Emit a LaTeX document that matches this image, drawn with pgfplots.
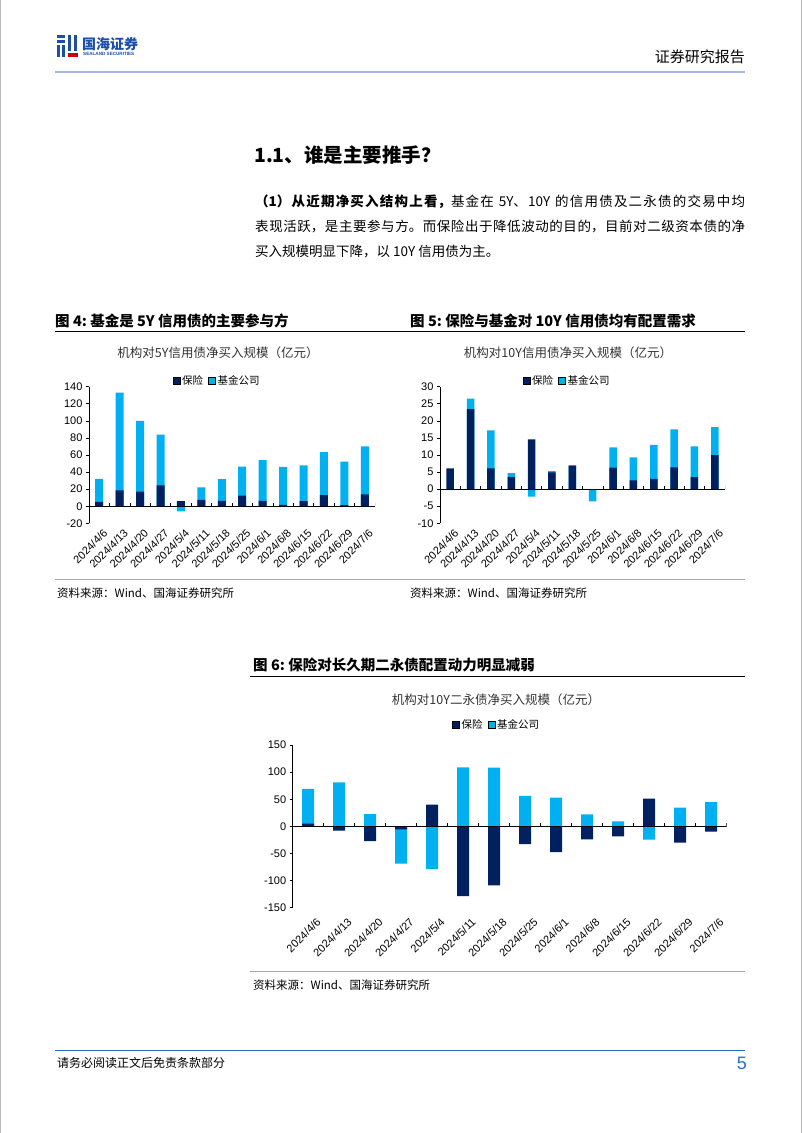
\documentclass[border=0pt]{standalone}
\usepackage{pgfplots}
\pgfplotsset{compat=1.18}
\usepackage{pgfplotstable}
\usepackage{fontspec}
\setmainfont{Liberation Sans}
\newfontfamily\cjk{Noto Sans CJK SC}
\XeTeXlinebreaklocale "zh"
\XeTeXlinebreakskip=0pt plus 1pt

\definecolor{navy}{RGB}{0,32,96}
\definecolor{cyanb}{RGB}{0,176,240}
\definecolor{hdrline}{RGB}{165,185,228}
\definecolor{logoblue}{RGB}{28,78,170}
\definecolor{pgblue}{RGB}{45,110,200}

% 5Y credit bonds: bx = insurance, jf = fund companies
\pgfplotstableread{
x bx jf
0 5 27
1 18.5 114.5
2 17 83
3 24.5 59.5
4 6 -6
5 7.5 14.5
6 6.3 25.5
7 12.5 34
8 6.3 47.7
9 1.5 44.5
10 6 42
11 13 50.5
12 1.2 51
13 14 56
}\tabA

% 10Y credit bonds
\pgfplotstableread{
x bx jf
0 6.1 -0.3
1 23.4 3.1
2 6.1 11.1
3 3.6 1.1
4 14.6 -2.2
5 4.9 0.4
6 6.9 0.1
7 0 -3.6
8 6.3 5.9
9 2.6 6.7
10 3.0 10.0
11 6.4 11.1
12 3.5 9.0
13 10.0 8.2
}\tabB

% 10Y tier-2 / perpetual bonds
\pgfplotstableread{
x bx jf
0 5 64
1 -8 81
2 -27 22.7
3 -5.5 -63.3
4 40 -78.7
5 -128.5 108.8
6 -108.8 108.2
7 -32.6 56
8 -47.3 52.9
9 -24 22
10 -18.4 9.2
11 51 -24.6
12 -30 34.4
13 -9.8 44.9
}\tabC

\pgfplotsset{
  barchart/.style={
    scale only axis,
    axis x line=bottom, axis y line=left, axis line style={-},
    x axis line style={draw=none},
    y axis line style={black, line width=0.8pt},
    xmin=-0.5, xmax=13.5, enlargelimits=false,
    xtick={0,1,2,3,4,5,6,7,8,9,10,11,12,13},
    xticklabels={2024/4/6,2024/4/13,2024/4/20,2024/4/27,2024/5/4,2024/5/11,2024/5/18,2024/5/25,2024/6/1,2024/6/8,2024/6/15,2024/6/22,2024/6/29,2024/7/6},
    x tick label style={rotate=45, anchor=east, font=\fontsize{11}{13}\selectfont, inner sep=1pt, yshift=-8pt, xshift=2pt},
    major x tick style={draw=none},
    y tick label style={font=\fontsize{11}{13}\selectfont},
    /pgf/number format/assume math mode=true,
    tick align=outside, major tick length=3pt,
    ytick style={black, line width=0.6pt},
    legend style={draw=none, fill=none, font=\cjk\fontsize{10.5}{12}\selectfont, legend columns=2,
      /tikz/every even column/.append style={column sep=3pt}},
    legend image code/.code={\fill[##1] (0pt,-3.5pt) rectangle (7pt,3.5pt);},
  },
}

\begin{document}
\begin{tikzpicture}[x=1pt,y=1pt]
\path[use as bounding box, fill=white] (0,0) rectangle (802,-1133);
\draw[gray!55, line width=1pt] (0.5,0) -- (0.5,-1133);
\draw[gray!55, line width=1pt] (801.5,0) -- (801.5,-1133);

% ---- header ----
\fill[logoblue] (57,-35) rectangle (65,-38);
\fill[logoblue] (57,-40) rectangle (65,-43);
\fill[logoblue] (57,-45) rectangle (60,-57);
\fill[logoblue] (62,-45) rectangle (65,-57);
\fill[logoblue] (68,-35) rectangle (71,-51);
\fill[logoblue] (74,-35) rectangle (77,-51);
\fill[red!80!black] (68,-53) rectangle (78,-57);
\node[anchor=west, inner sep=0, text=logoblue] at (82,-44) {\cjk\bfseries\fontsize{14}{16}\selectfont 国海证券};
\node[anchor=west, inner sep=0, text=logoblue] at (83,-54) {\bfseries\fontsize{4.6}{5}\selectfont SEALAND SECURITIES};
\node[anchor=east, inner sep=0] at (745,-57) {\cjk\fontsize{15}{17}\selectfont 证券研究报告};
\draw[hdrline, line width=2pt] (55,-72) -- (745,-72);

% ---- heading and paragraph ----
\node[anchor=west, inner sep=0] at (254,-155) {\cjk\bfseries\fontsize{19.5}{22}\selectfont 1.1、谁是主要推手？};
\node[anchor=north west, inner sep=0, text width=490pt, align=justify,
      font=\cjk\fontsize{13.5}{25}\selectfont] at (255,-194.5)
 {\fontsize{13.5}{25}\selectfont {\bfseries （1）从近期净买入结构上看，}基金在 5Y、10Y 的信用债及二永债的交易中均\linebreak 表现活跃，是主要参与方。而保险出于降低波动的目的，目前对二级资本债的净\linebreak 买入规模明显下降，以 10Y 信用债为主。\par};

% ---- captions fig 4 / fig 5 ----
\node[anchor=west, inner sep=0] at (55,-321) {\cjk\bfseries\fontsize{14.5}{16}\selectfont 图 4:\ 基金是 5Y 信用债的主要参与方};
\node[anchor=west, inner sep=0] at (410,-321) {\cjk\bfseries\fontsize{14.5}{16}\selectfont 图 5:\ 保险与基金对 10Y 信用债均有配置需求};
\draw[black, line width=1pt] (55,-331) -- (745,-331);
\node[inner sep=0, text=black!80] at (218,-353) {\cjk\fontsize{12.5}{14}\selectfont 机构对5Y信用债净买入规模（亿元）};
\node[inner sep=0, text=black!80] at (568,-353) {\cjk\fontsize{12.5}{14}\selectfont 机构对10Y信用债净买入规模（亿元）};

% ---- chart fig 4 ----
\begin{axis}[barchart, at={(89pt,-523.3pt)}, anchor=south west, width=286pt, height=136.6pt,
  ymin=-20, ymax=140, ytick={-20,0,20,40,60,80,100,120,140},
  legend style={at={(axis description cs:0.448,1.045)}, anchor=center}]
\addlegendimage{fill=navy}\addlegendentry{保险}
\addlegendimage{fill=cyanb}\addlegendentry{基金公司}
\addplot[ybar, bar width=8pt, bar shift=0pt, fill=cyanb, draw=none, forget plot]
  table[x=x, y expr={(\thisrow{bx}*\thisrow{jf}>0) ? \thisrow{bx}+\thisrow{jf} : \thisrow{jf}}]{\tabA};
\addplot[ybar, bar width=8pt, bar shift=0pt, fill=navy, draw=none, forget plot] table[x=x, y=bx]{\tabA};
\draw[black, line width=0.8pt] (axis cs:-0.5,0) -- (axis cs:13.5,0);
\pgfplotsinvokeforeach{0.5,1.5,2.5,3.5,4.5,5.5,6.5,7.5,8.5,9.5,10.5,11.5,12.5,13.5}{\draw[black, line width=0.6pt] (axis cs:#1,0) -- (axis cs:#1,3.5);}
\end{axis}

% ---- chart fig 5 ----
\begin{axis}[barchart, at={(440pt,-523.3pt)}, anchor=south west, width=285pt, height=136.6pt,
  ymin=-10, ymax=30, ytick={-10,-5,0,5,10,15,20,25,30},
  legend style={at={(axis description cs:0.446,1.045)}, anchor=center}]
\addlegendimage{fill=navy}\addlegendentry{保险}
\addlegendimage{fill=cyanb}\addlegendentry{基金公司}
\addplot[ybar, bar width=7.5pt, bar shift=0pt, fill=cyanb, draw=none, forget plot]
  table[x=x, y expr={(\thisrow{bx}*\thisrow{jf}>0) ? \thisrow{bx}+\thisrow{jf} : \thisrow{jf}}]{\tabB};
\addplot[ybar, bar width=7.5pt, bar shift=0pt, fill=navy, draw=none, forget plot] table[x=x, y=bx]{\tabB};
\draw[black, line width=0.8pt] (axis cs:-0.5,0) -- (axis cs:13.5,0);
\pgfplotsinvokeforeach{0.5,1.5,2.5,3.5,4.5,5.5,6.5,7.5,8.5,9.5,10.5,11.5,12.5,13.5}{\draw[black, line width=0.6pt] (axis cs:#1,0) -- (axis cs:#1,0.88);}
\end{axis}

% ---- sources row 1 ----
\draw[gray!70, line width=1pt] (55,-579) -- (745,-579);
\node[anchor=west, inner sep=0] at (57,-593) {\cjk\fontsize{11.5}{13}\selectfont 资料来源：Wind、国海证券研究所};
\node[anchor=west, inner sep=0] at (410,-593) {\cjk\fontsize{11.5}{13}\selectfont 资料来源：Wind、国海证券研究所};

% ---- caption fig 6 ----
\node[anchor=west, inner sep=0] at (253,-665) {\cjk\bfseries\fontsize{14.5}{16}\selectfont 图 6:\ 保险对长久期二永债配置动力明显减弱};
\draw[black, line width=1pt] (250,-676) -- (745,-676);
\node[inner sep=0, text=black!80] at (496,-700) {\cjk\fontsize{12.5}{14}\selectfont 机构对10Y二永债净买入规模（亿元）};

% ---- chart fig 6 ----
\begin{axis}[barchart, at={(292.7pt,-907.7pt)}, anchor=south west, width=434pt, height=162.7pt,
  ymin=-150, ymax=150, ytick={-150,-100,-50,0,50,100,150},
  x tick label style={yshift=-6pt},
  legend style={at={(axis description cs:0.47,1.123)}, anchor=center}]
\addlegendimage{fill=navy}\addlegendentry{保险}
\addlegendimage{fill=cyanb}\addlegendentry{基金公司}
\addplot[ybar, bar width=12pt, bar shift=0pt, fill=cyanb, draw=none, forget plot]
  table[x=x, y expr={(\thisrow{bx}*\thisrow{jf}>0) ? \thisrow{bx}+\thisrow{jf} : \thisrow{jf}}]{\tabC};
\addplot[ybar, bar width=12pt, bar shift=0pt, fill=navy, draw=none, forget plot] table[x=x, y=bx]{\tabC};
\draw[black, line width=0.8pt] (axis cs:-0.5,0) -- (axis cs:13.5,0);
\pgfplotsinvokeforeach{0.5,1.5,2.5,3.5,4.5,5.5,6.5,7.5,8.5,9.5,10.5,11.5,12.5,13.5}{\draw[black, line width=0.6pt] (axis cs:#1,0) -- (axis cs:#1,5.5);}
\end{axis}

\draw[gray!70, line width=1pt] (250,-971) -- (745,-971);
\node[anchor=west, inner sep=0] at (253,-985) {\cjk\fontsize{11.5}{13}\selectfont 资料来源：Wind、国海证券研究所};

% ---- footer ----
\draw[pgblue, line width=1pt] (55,-1050) -- (745,-1050);
\node[anchor=west, inner sep=0] at (57,-1063) {\cjk\fontsize{12}{14}\selectfont 请务必阅读正文后免责条款部分};
\node[anchor=east, inner sep=0, text=pgblue] at (747,-1063) {\fontsize{18}{20}\selectfont 5};
\end{tikzpicture}
\end{document}
